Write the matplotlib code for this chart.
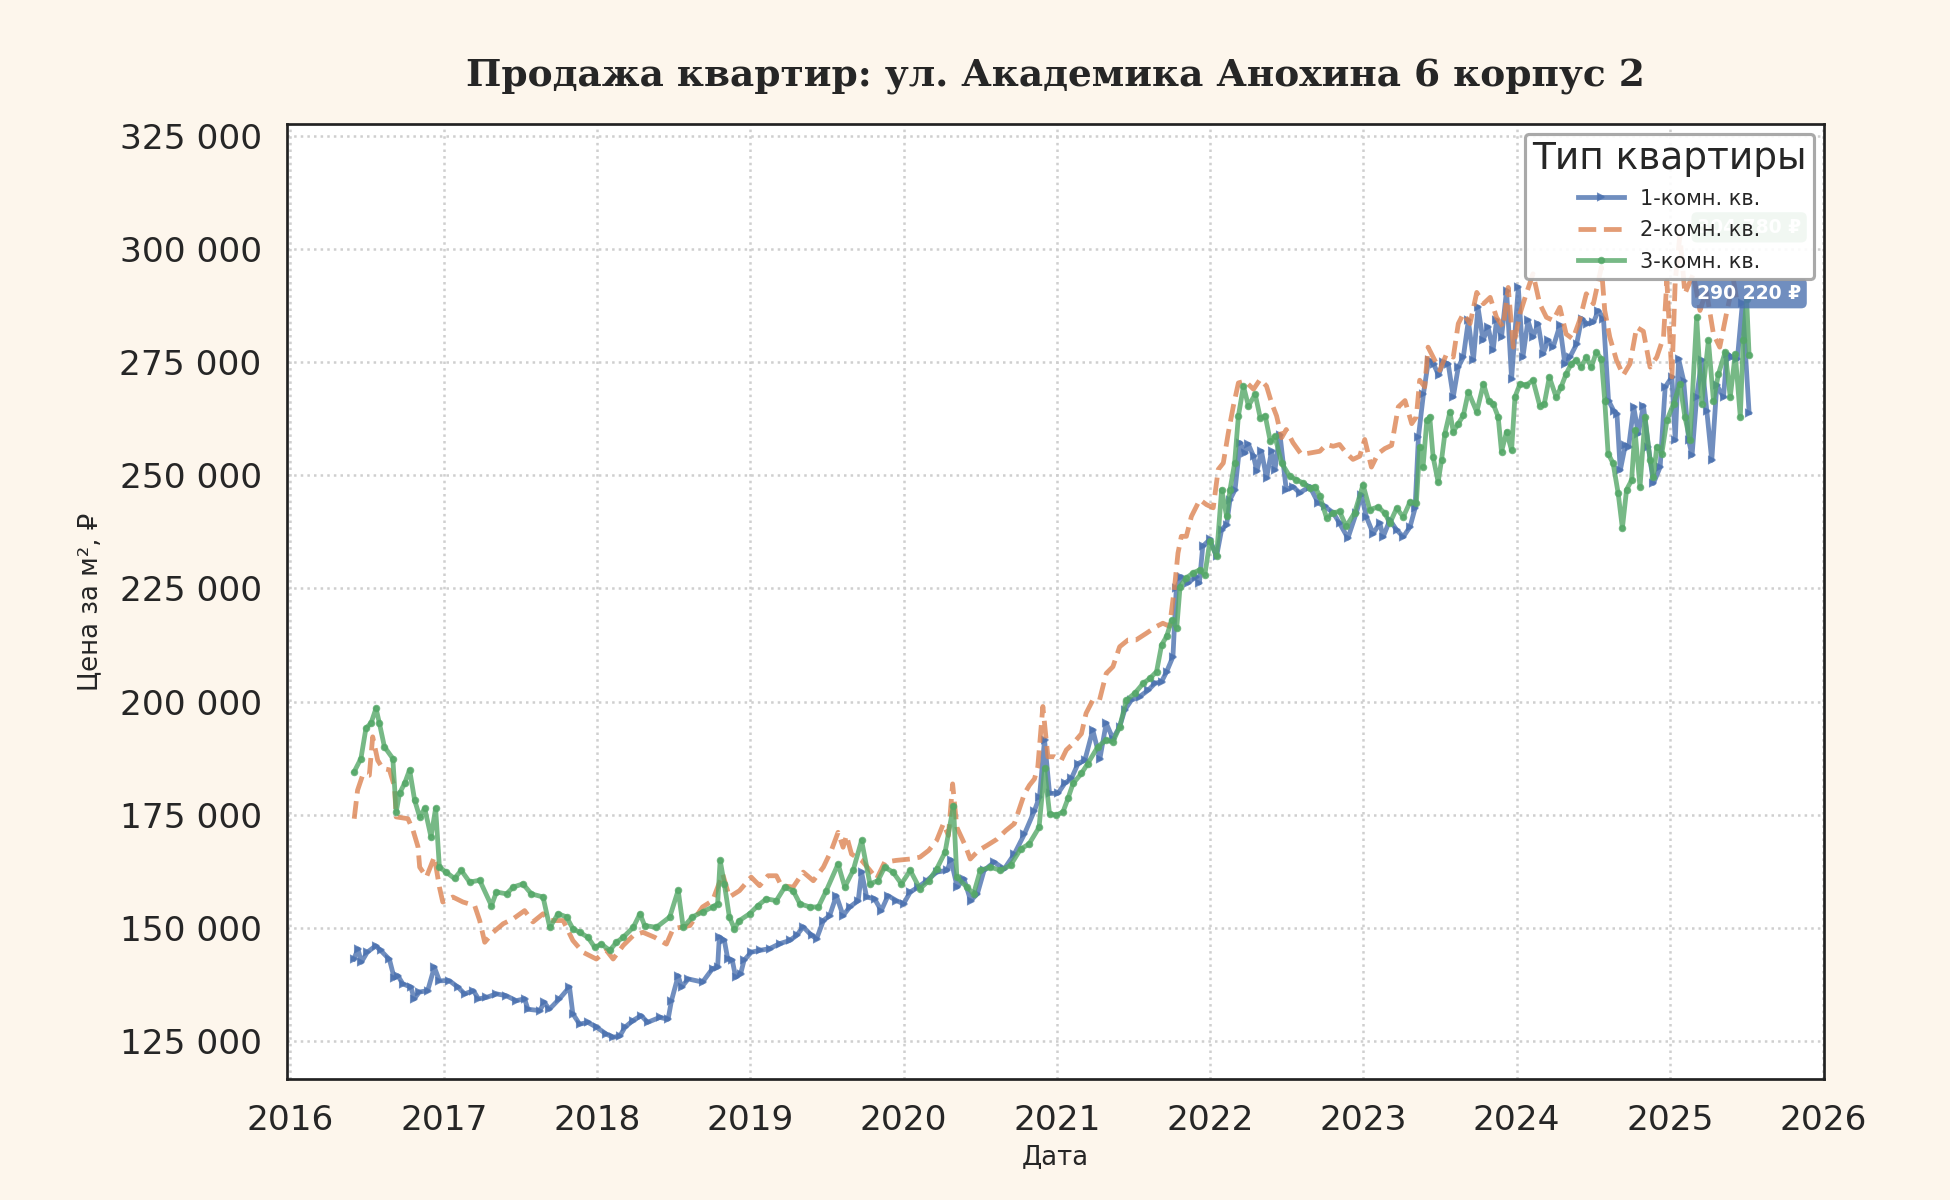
import matplotlib
matplotlib.use("Agg")
import matplotlib.pyplot as plt
import matplotlib.dates as mdates
import matplotlib.ticker as mticker
import pandas as pd

# ---------------- data ----------------
title = "Продажа квартир: ул. Академика Анохина 6 корпус 2"
legend_title = "Тип квартиры"
labels = ["1-комн. кв.", "2-комн. кв.", "3-комн. кв."]

series_1k = [
    ("2016-05-31",143100),("2016-06-10",145300),("2016-06-18",142400),("2016-07-02",144600),
    ("2016-07-22",146000),("2016-08-03",145000),("2016-08-24",143000),("2016-09-04",139000),
    ("2016-09-13",139400),("2016-09-25",137600),("2016-10-14",136900),("2016-10-22",134300),
    ("2016-11-03",135800),("2016-11-23",136100),("2016-12-09",141300),("2016-12-21",138300),
    ("2017-01-14",138300),("2017-02-03",136900),("2017-02-19",135400),("2017-03-12",136100),
    ("2017-03-24",134300),("2017-04-12",134600),("2017-05-06",135400),("2017-05-29",135000),
    ("2017-06-22",133900),("2017-07-12",134300),("2017-07-20",132000),("2017-08-17",131700),
    ("2017-08-28",133500),("2017-09-09",132000),("2017-10-03",134300),("2017-10-27",136900),
    ("2017-11-04",131000),("2017-11-20",128700),("2017-12-10",129100),("2017-12-31",128000),
    ("2018-01-23",126500),("2018-02-08",125800),("2018-02-24",126100),("2018-03-08",128000),
    ("2018-03-27",129500),("2018-04-16",130600),("2018-05-01",129100),("2018-05-30",130200),
    ("2018-06-19",129800),("2018-06-27",133900),("2018-07-13",139400),("2018-07-21",136900),
    ("2018-08-06",138700),("2018-09-09",138000),("2018-10-03",141000),("2018-10-15",141300),
    ("2018-10-19",148000),("2018-10-31",147200),("2018-11-08",143200),("2018-11-19",142800),
    ("2018-11-27",139100),("2018-12-09",139900),("2018-12-17",142800),("2019-01-03",144600),
    ("2019-01-23",145000),("2019-02-16",145400),("2019-03-12",146500),("2019-04-05",147200),
    ("2019-04-21",148300),("2019-05-07",150200),("2019-05-27",148300),("2019-06-08",147600),
    ("2019-06-24",151600),("2019-07-09",152700),("2019-07-25",157100),("2019-08-10",152700),
    ("2019-08-26",154600),("2019-09-15",156000),("2019-09-23",162300),("2019-10-05",156800),
    ("2019-10-24",156400),("2019-11-09",153800),("2019-11-25",157100),("2019-12-15",156000),
    ("2020-01-01",155300),("2020-01-17",157900),("2020-02-05",159000),("2020-02-25",160400),
    ("2020-03-20",162300),("2020-04-14",162700),("2020-04-23",165000),("2020-05-08",159000),
    ("2020-05-24",160800),("2020-06-09",156000),("2020-06-25",157500),("2020-07-11",162700),
    ("2020-08-04",164500),("2020-08-28",163000),("2020-09-21",166300),("2020-10-15",170700),
    ("2020-11-08",175900),("2020-11-20",178900),("2020-12-02",191500),("2020-12-14",179700),
    ("2021-01-03",179700),("2021-01-19",181900),("2021-02-04",183000),("2021-02-20",186300),
    ("2021-03-08",187000),("2021-03-27",193700),("2021-04-13",187400),("2021-04-28",195200),
    ("2021-05-14",191800),("2021-05-30",194400),("2021-06-11",198100),("2021-06-27",200300),
    ("2021-07-17",201100),("2021-08-06",202500),("2021-08-22",204000),("2021-09-07",204400),
    ("2021-09-19",206600),("2021-10-04",209900),("2021-10-12",225000),("2021-10-24",227600),
    ("2021-11-09",226200),("2021-11-28",227600),("2021-12-06",226200),("2021-12-14",234300),
    ("2021-12-31",235800),("2022-01-16",232100),("2022-01-28",238000),("2022-02-09",239100),
    ("2022-02-17",244600),("2022-03-01",246800),("2022-03-13",257200),("2022-03-25",254900),
    ("2022-04-02",256800),("2022-04-14",254200),("2022-04-22",250900),("2022-05-03",255300),
    ("2022-05-15",249400),("2022-05-27",255300),("2022-06-04",251200),("2022-06-16",259000),
    ("2022-07-01",246800),("2022-07-17",247500),("2022-08-02",246100),("2022-08-26",247500),
    ("2022-09-15",243900),("2022-10-01",243100),("2022-10-21",241700),("2022-11-05",239400),
    ("2022-11-25",236100),("2022-12-15",241700),("2022-12-27",245700),("2023-01-08",240800),
    ("2023-01-24",237100),("2023-02-09",239400),("2023-02-17",236400),("2023-03-05",240100),
    ("2023-03-21",237900),("2023-04-06",236400),("2023-04-22",238600),("2023-05-04",242700),
    ("2023-05-12",258500),("2023-05-24",268000),("2023-06-05",275400),("2023-06-17",274600),
    ("2023-06-29",272100),("2023-07-10",275000),("2023-07-22",274600),("2023-08-03",267300),
    ("2023-08-15",273900),("2023-08-27",276100),("2023-09-08",284200),("2023-09-20",275400),
    ("2023-10-01",287100),("2023-10-13",279800),("2023-10-25",282700),("2023-11-06",277600),
    ("2023-11-14",284200),("2023-11-26",280500),("2023-12-08",290800),("2023-12-20",271300),
    ("2024-01-05",291500),("2024-01-16",276100),("2024-01-28",284200),("2024-02-09",280500),
    ("2024-02-21",283500),("2024-03-04",276800),("2024-03-16",279800),("2024-03-28",278300),
    ("2024-04-13",283100),("2024-04-25",274600),("2024-05-07",276100),("2024-05-23",279000),
    ("2024-06-04",284600),("2024-06-16",283500),("2024-07-02",283800),("2024-07-14",286400),
    ("2024-07-26",284600),("2024-08-07",266500),("2024-08-19",264300),("2024-08-27",263600),
    ("2024-09-04",251100),("2024-09-16",256600),("2024-09-24",256300),("2024-10-06",265100),
    ("2024-10-17",259200),("2024-10-29",265400),("2024-11-10",256300),("2024-11-22",248200),
    ("2024-12-08",251800),("2024-12-20",269500),("2025-01-05",271700),("2025-01-13",257700),
    ("2025-01-21",275700),("2025-02-02",270900),("2025-02-14",257700),("2025-02-22",254400),
    ("2025-03-05",267300),("2025-03-17",275400),("2025-03-29",264300),("2025-04-10",253300),
    ("2025-04-22",269900),("2025-05-08",267300),("2025-05-16",276800),("2025-05-28",276100),
    ("2025-06-10",275700),("2025-06-22",288000),("2025-07-08",263800),
]

series_2k = [
    ("2016-06-01",174100),("2016-06-09",180400),("2016-06-21",183700),("2016-07-07",183700),
    ("2016-07-15",192200),("2016-07-27",187000),("2016-08-08",185200),("2016-08-24",184900),
    ("2016-09-05",181200),("2016-09-09",174500),("2016-10-07",174100),("2016-10-19",171600),
    ("2016-10-31",167900),("2016-11-04",163400),("2016-11-20",161200),("2016-12-09",165700),
    ("2016-12-21",159000),("2016-12-29",155700),("2017-01-22",156800),("2017-02-15",155700),
    ("2017-03-15",154900),("2017-03-27",151600),("2017-04-08",146800),("2017-04-28",149000),
    ("2017-05-22",150900),("2017-06-15",152000),("2017-07-12",153800),("2017-08-01",151300),
    ("2017-08-25",153100),("2017-09-10",151600),("2017-10-12",151600),("2017-11-04",147200),
    ("2017-11-28",144600),("2017-12-30",143100),("2018-01-23",145000),("2018-02-08",143100),
    ("2018-03-04",146100),("2018-03-28",148300),("2018-04-20",149000),("2018-05-18",147900),
    ("2018-06-15",146400),("2018-07-01",149800),("2018-08-10",150500),("2018-09-09",154600),
    ("2018-10-03",156000),("2018-10-27",161900),("2018-11-12",156800),("2018-12-06",158200),
    ("2019-01-03",161200),("2019-01-23",159300),("2019-02-12",161500),("2019-03-04",161500),
    ("2019-03-16",159300),("2019-04-13",159000),("2019-05-07",162300),("2019-05-31",160400),
    ("2019-06-24",163400),("2019-07-13",167100),("2019-07-29",171100),("2019-08-10",167800),
    ("2019-08-18",170400),("2019-08-30",166300),("2019-09-23",164900),("2019-10-13",162700),
    ("2019-10-29",160800),("2019-11-17",164500),("2019-12-15",164900),("2020-01-17",165200),
    ("2020-02-09",165600),("2020-03-01",167100),("2020-03-20",169300),("2020-04-05",173000),
    ("2020-04-17",170400),("2020-04-27",181800),("2020-05-07",172200),("2020-05-27",168200),
    ("2020-06-08",165200),("2020-06-28",167100),("2020-07-18",168200),("2020-08-11",169600),
    ("2020-09-01",171500),("2020-09-21",173000),("2020-10-15",179600),("2020-10-27",181500),
    ("2020-11-08",182900),("2020-11-16",185600),("2020-11-28",198900),("2020-12-10",187800),
    ("2020-12-26",187800),("2021-01-11",187000),("2021-01-23",189300),("2021-02-08",190700),
    ("2021-02-28",192900),("2021-03-11",197400),("2021-03-27",200300),("2021-04-12",200300),
    ("2021-04-28",206200),("2021-05-14",207700),("2021-05-30",212100),("2021-06-19",213600),
    ("2021-07-08",213600),("2021-08-02",215100),("2021-08-26",216600),("2021-09-10",217300),
    ("2021-09-26",216600),("2021-10-08",225400),("2021-10-16",232800),("2021-10-24",236500),
    ("2021-11-05",236500),("2021-11-17",240900),("2021-12-07",244600),("2021-12-23",243500),
    ("2022-01-08",242800),("2022-01-20",251300),("2022-02-01",252700),("2022-02-13",259400),
    ("2022-02-25",265300),("2022-03-09",270400),("2022-03-25",270800),("2022-04-14",269000),
    ("2022-04-30",271200),("2022-05-15",269700),("2022-05-27",266000),("2022-06-08",263100),
    ("2022-06-20",258300),("2022-07-01",260100),("2022-07-17",257200),("2022-08-06",254600),
    ("2022-08-26",254900),("2022-09-19",255300),("2022-10-05",256800),("2022-10-21",256400),
    ("2022-11-05",256800),("2022-11-21",254900),("2022-12-07",253500),("2022-12-23",254200),
    ("2023-01-04",257900),("2023-01-20",251800),("2023-02-05",254800),("2023-02-21",255900),
    ("2023-03-09",256600),("2023-03-25",265100),("2023-04-10",266500),("2023-04-26",261400),
    ("2023-05-07",262900),("2023-05-15",271000),("2023-05-27",269500),("2023-06-04",278300),
    ("2023-06-16",276100),("2023-07-02",273200),("2023-07-18",276800),("2023-08-03",276100),
    ("2023-08-15",283500),("2023-08-27",285700),("2023-09-12",283500),("2023-09-28",290400),
    ("2023-10-14",287900),("2023-10-30",289300),("2023-11-14",284900),("2023-11-30",282700),
    ("2023-12-12",291500),("2023-12-24",278300),("2024-01-09",285700),("2024-01-24",290100),
    ("2024-02-09",294500),("2024-02-25",287900),("2024-03-12",284900),("2024-03-28",284200),
    ("2024-04-13",287100),("2024-04-28",281200),("2024-05-14",280100),("2024-05-30",284200),
    ("2024-06-15",290100),("2024-07-02",287900),("2024-07-14",293000),("2024-07-21",296000),
    ("2024-07-29",286400),("2024-08-10",280500),("2024-08-26",275400),("2024-09-11",272100),
    ("2024-09-27",274600),("2024-10-13",282700),("2024-10-29",281800),("2024-11-14",273900),
    ("2024-11-30",276100),("2024-12-16",280500),("2024-12-24",293000),("2025-01-05",271700),
    ("2025-01-13",293000),("2025-01-24",303000),("2025-02-05",290100),("2025-02-25",294500),
    ("2025-03-13",286400),("2025-03-28",290800),("2025-04-14",281200),("2025-04-29",278300),
    ("2025-05-15",285700),("2025-06-01",293000),("2025-06-10",288000),
]

series_3k = [
    ("2016-06-01",184500),("2016-06-17",187400),("2016-06-29",194100),("2016-07-11",195200),
    ("2016-07-23",198500),("2016-07-31",195200),("2016-08-12",190000),("2016-09-01",187400),
    ("2016-09-09",175600),("2016-09-17",179700),("2016-09-29",181900),("2016-10-11",184900),
    ("2016-10-23",178200),("2016-11-04",174500),("2016-11-16",176400),("2016-12-01",170100),
    ("2016-12-12",176400),("2016-12-21",163400),("2017-01-06",162300),("2017-01-26",160900),
    ("2017-02-11",162700),("2017-03-03",160100),("2017-03-27",160500),("2017-04-24",154900),
    ("2017-05-06",157900),("2017-05-30",157500),("2017-06-15",159000),("2017-07-08",159700),
    ("2017-07-28",157500),("2017-08-25",156800),("2017-09-10",150100),("2017-09-30",153100),
    ("2017-10-20",152400),("2017-11-04",149800),("2017-11-20",149000),("2017-12-10",147900),
    ("2017-12-26",145700),("2018-01-11",146400),("2018-01-31",145000),("2018-02-16",146800),
    ("2018-03-04",147900),("2018-03-28",150100),("2018-04-13",153100),("2018-04-24",150500),
    ("2018-05-22",150100),("2018-06-23",152400),("2018-07-13",158300),("2018-07-25",150100),
    ("2018-08-16",152400),("2018-09-09",153500),("2018-10-03",154600),("2018-10-15",155300),
    ("2018-10-21",164900),("2018-10-31",159700),("2018-11-12",152400),("2018-11-24",149800),
    ("2018-12-06",151600),("2018-12-30",153100),("2019-01-19",154900),("2019-02-08",156400),
    ("2019-03-04",156000),("2019-03-24",159000),("2019-04-13",158200),("2019-04-29",155300),
    ("2019-05-23",154600),("2019-06-12",154600),("2019-07-01",158200),("2019-07-29",164100),
    ("2019-08-14",159000),("2019-09-03",162700),("2019-09-23",169300),("2019-10-13",159700),
    ("2019-11-01",160400),("2019-11-17",163400),("2019-12-07",162300),("2019-12-27",159700),
    ("2020-01-17",162700),("2020-02-09",158600),("2020-03-01",160400),("2020-03-20",163000),
    ("2020-04-09",166700),("2020-04-29",177000),("2020-05-07",161200),("2020-05-31",159000),
    ("2020-06-16",157500),("2020-07-02",162700),("2020-07-26",163400),("2020-08-19",162700),
    ("2020-09-12",163800),("2020-10-06",167400),("2020-10-26",168500),("2020-11-19",172200),
    ("2020-12-02",185200),("2020-12-14",175200),("2020-12-30",174900),("2021-01-15",175600),
    ("2021-01-27",178600),("2021-02-08",181900),("2021-02-28",184100),("2021-03-15",186300),
    ("2021-04-08",190000),("2021-04-28",191500),("2021-05-14",191100),("2021-05-30",194400),
    ("2021-06-15",200300),("2021-07-05",201800),("2021-07-25",204000),("2021-08-10",205100),
    ("2021-08-26",206600),("2021-09-07",212500),("2021-09-19",214400),("2021-10-01",218000),
    ("2021-10-13",216200),("2021-10-21",225400),("2021-11-05",227300),("2021-11-21",228400),
    ("2021-12-07",229100),("2021-12-19",228000),("2021-12-31",235400),("2022-01-16",232100),
    ("2022-01-28",246800),("2022-02-09",240900),("2022-02-17",246800),("2022-02-28",252700),
    ("2022-03-09",263100),("2022-03-21",269700),("2022-04-02",265300),("2022-04-18",267900),
    ("2022-04-30",262700),("2022-05-12",263100),("2022-05-24",257500),("2022-06-04",258600),
    ("2022-06-20",252700),("2022-07-09",249800),("2022-07-25",249000),("2022-08-10",248300),
    ("2022-08-26",247200),("2022-09-07",247500),("2022-09-19",245400),("2022-10-05",240600),
    ("2022-10-21",241700),("2022-11-05",242000),("2022-11-21",238700),("2022-12-11",241700),
    ("2022-12-31",247900),("2023-01-16",242400),("2023-02-05",243000),("2023-02-21",241600),
    ("2023-03-05",239400),("2023-03-21",242700),("2023-04-06",240800),("2023-04-22",244100),
    ("2023-05-07",243800),("2023-05-15",256300),("2023-05-23",251800),("2023-06-01",262100),
    ("2023-06-08",262900),("2023-06-16",254000),("2023-06-28",248500),("2023-07-06",253300),
    ("2023-07-14",259200),("2023-07-26",264000),("2023-08-03",259600),("2023-08-15",261400),
    ("2023-08-27",263200),("2023-09-08",268400),("2023-09-28",264000),("2023-10-14",270200),
    ("2023-10-26",266500),("2023-11-06",265800),("2023-11-18",262900),("2023-11-26",255200),
    ("2023-12-08",259600),("2023-12-20",255500),("2023-12-28",267300),("2024-01-09",270200),
    ("2024-01-24",269900),("2024-02-09",271000),("2024-02-25",265400),("2024-03-07",265800),
    ("2024-03-19",271700),("2024-04-04",267300),("2024-04-16",269500),("2024-04-28",272400),
    ("2024-05-10",274600),("2024-05-22",275400),("2024-06-03",273900),("2024-06-15",276100),
    ("2024-06-27",273900),("2024-07-09",277200),("2024-07-21",275700),("2024-07-29",266500),
    ("2024-08-06",254800),("2024-08-18",252600),("2024-08-30",246000),("2024-09-09",238300),
    ("2024-09-19",246800),("2024-10-01",248900),("2024-10-09",260000),("2024-10-21",247400),
    ("2024-11-02",262900),("2024-11-14",253300),("2024-11-22",249600),("2024-11-30",256300),
    ("2024-12-12",254800),("2024-12-24",262100),("2025-01-09",265800),("2025-01-24",270200),
    ("2025-02-05",262900),("2025-02-17",257700),("2025-03-05",284900),("2025-03-17",265800),
    ("2025-04-02",279800),("2025-04-14",266500),("2025-04-26",272400),("2025-05-12",277200),
    ("2025-05-24",267300),("2025-06-05",276800),("2025-06-17",262900),("2025-06-24",279800),
    ("2025-07-02",289000),("2025-07-08",276500),
]

# last-value labels (the green one sits under the legend)
badge_texts = ["290 220 ₽", None, "304 780 ₽"]
badge_values = [290220, None, 304780]

y_ticks = [125000, 150000, 175000, 200000, 225000, 250000, 275000, 300000, 325000]

# ---------------- style ----------------
BG = "#fdf6ec"
colors = ["#4C72B0", "#DD8452", "#55A868"]
styles = ["-", "--", "-"]
markers = [">", None, "o"]
TXT = "#262626"

plt.rcParams["font.family"] = ["DejaVu Sans"]

fig = plt.figure(figsize=(13, 8), dpi=150, facecolor=BG)
ax = fig.add_axes([0.147, 0.1005, 0.7885, 0.7965])
ax.set_facecolor("white")

all_series = [series_1k, series_2k, series_3k]
for data, lab, col, ls, mk in zip(all_series, labels, colors, styles, markers):
    d = pd.to_datetime([p[0] for p in data])
    v = [p[1] for p in data]
    ax.plot(d, v, color=col, ls=ls, lw=2.3, marker=mk, ms=2.6,
            alpha=0.8, label=lab, zorder=2)

for data, txt, val, col in zip(all_series, badge_texts, badge_values, colors):
    if txt is None:
        continue
    last_date = pd.to_datetime(data[-1][0])
    ax.annotate(txt, xy=(last_date, val), ha="center", va="center",
                fontsize=9, fontweight="bold", color="white", zorder=3,
                bbox=dict(boxstyle="round,pad=0.3", fc=col, ec="none", alpha=0.8))

ax.set_xlim(pd.Timestamp("2015-12-23"), pd.Timestamp("2026-01-03"))
ax.set_ylim(116500, 327700)
ax.xaxis.set_major_locator(mdates.YearLocator())
ax.xaxis.set_major_formatter(mdates.DateFormatter("%Y"))
ax.set_yticks(y_ticks)
ax.yaxis.set_major_formatter(mticker.FuncFormatter(lambda v, p: f"{int(v):,}".replace(",", " ")))

ax.grid(True, ls=":", lw=1.2, color="#cfcfcf", zorder=0)
ax.tick_params(length=0, labelsize=16.5, pad=12, colors=TXT)
for s in ax.spines.values():
    s.set_color("#222222")
    s.set_linewidth(1.3)

ax.set_title(title, fontsize=18, fontweight="bold", family="DejaVu Serif",
             color=TXT, pad=18)
ax.set_xlabel("Дата", fontsize=12.5, color=TXT, labelpad=3)
ax.set_ylabel("Цена за м², ₽", fontsize=12.5, color=TXT, labelpad=8)

leg = ax.legend(title=legend_title, loc="upper right", fontsize=10,
                title_fontsize=18, frameon=True, fancybox=True,
                framealpha=0.9, edgecolor="#a0a0a0", borderaxespad=0.5,
                handlelength=2.2, labelspacing=0.55, borderpad=0.35)
leg.get_frame().set_linewidth(1.5)
leg.get_title().set_color(TXT)
for t in leg.get_texts():
    t.set_color(TXT)
leg.set_zorder(5)

fig.savefig("out.png", dpi=150, facecolor=BG)
